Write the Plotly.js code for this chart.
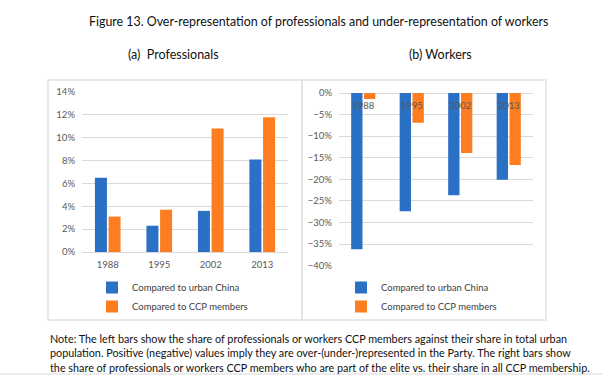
<!DOCTYPE html>
<html>
<head>
<meta charset="utf-8">
<script src="https://cdn.plot.ly/plotly-3.0.1.min.js"></script>
<style>html,body{margin:0;padding:0;background:#fff;}#chart{width:602px;height:377px;}</style>
</head>
<body>
<div id="chart"></div>
<script>
const years = ['1988', '1995', '2002', '2013'];
const profUrban = [6.5, 2.3, 3.6, 8.1];
const profCCP = [3.1, 3.7, 10.8, 11.8];
const workUrban = [-36.2, -27.4, -23.7, -20.1];
const workCCP = [-1.4, -6.9, -13.9, -16.7];
const seriesNames = ['Compared to urban China', 'Compared to CCP members'];
const titleText = 'Figure 13. Over-representation of professionals and under-representation of workers';
const subTitles = ['(a)  Professionals', '(b) Workers'];
const noteLines = [
  'Note: The left bars show the share of professionals or workers CCP members against their share in total urban',
  'population. Positive (negative) values imply they are over-(under-)represented in the Party. The right bars show',
  'the share of professionals or workers CCP members who are part of the elite vs. their share in all CCP membership.'
];

const BLUE = '#2a70c4';
const ORANGE = '#fd7d20';
const FONT = 'Lato, "Open Sans", sans-serif';
const W = 602, H = 377;
const px = v => v / W;
const py = v => 1 - v / H;

const traces = [
  {type:'bar', x:years, y:profUrban, name:seriesNames[0], marker:{color:BLUE}, xaxis:'x', yaxis:'y', legend:'legend'},
  {type:'bar', x:years, y:profCCP, name:seriesNames[1], marker:{color:ORANGE}, xaxis:'x', yaxis:'y', legend:'legend'},
  {type:'bar', x:years, y:workUrban, name:seriesNames[0], marker:{color:BLUE}, xaxis:'x2', yaxis:'y2', legend:'legend2'},
  {type:'bar', x:years, y:workCCP, name:seriesNames[1], marker:{color:ORANGE}, xaxis:'x2', yaxis:'y2', legend:'legend2'}
];

const tickFont = {family:FONT, size:9.5, color:'#595959'};
const legendFont = {family:FONT, size:9.5, color:'#404040'};

const layout = {
  width: W, height: H,
  margin: {l:0, r:0, t:0, b:0},
  paper_bgcolor: '#fff', plot_bgcolor: 'rgba(0,0,0,0)',
  barmode: 'group', bargap: 0.47, bargroupgap: 0.12,
  font: {family: FONT},
  xaxis: {domain:[px(82), px(288)], anchor:'y', type:'category', showgrid:false, showline:false, zeroline:false, ticks:'', tickfont:tickFont, ticklabelstandoff:5},
  yaxis: {domain:[py(252), py(92)], anchor:'x', range:[0,14], dtick:2, ticksuffix:'%', gridcolor:'#d9d9d9', gridwidth:1, zeroline:true, zerolinecolor:'#d9d9d9', zerolinewidth:1, showline:false, ticks:'', tickfont:tickFont, ticklabelstandoff:6},
  xaxis2: {domain:[px(339), px(533)], anchor:'free', position:py(93), type:'category', showgrid:false, showline:false, zeroline:false, ticks:'', tickfont:tickFont, ticklabelstandoff:5},
  yaxis2: {domain:[py(265.7), py(93)], anchor:'x2', range:[-40,0], dtick:5, ticksuffix:'%', gridcolor:'#d9d9d9', gridwidth:1, zeroline:true, zerolinecolor:'#d9d9d9', zerolinewidth:1, showline:false, ticks:'', tickfont:tickFont, ticklabelstandoff:6},
  legend: {x:px(92), y:py(273), xanchor:'left', yanchor:'top', orientation:'v', font:legendFont, bgcolor:'rgba(0,0,0,0)', borderwidth:0, tracegroupgap:0},
  legend2: {x:px(341), y:py(273), xanchor:'left', yanchor:'top', orientation:'v', font:legendFont, bgcolor:'rgba(0,0,0,0)', borderwidth:0, tracegroupgap:0},
  shapes: [
    {type:'rect', xref:'paper', yref:'paper', x0:px(48), x1:px(302), y0:py(320), y1:py(80), line:{color:'#e2e2e2', width:1.5}},
    {type:'rect', xref:'paper', yref:'paper', x0:px(302), x1:px(546), y0:py(320), y1:py(80), line:{color:'#e2e2e2', width:1.5}},
    {type:'line', xref:'paper', yref:'paper', x0:0, x1:1, y0:py(374), y1:py(374), line:{color:'#e6e6e6', width:1.5}}
  ],
  annotations: [
    {text:titleText, xref:'paper', yref:'paper', x:px(318), y:py(22), xanchor:'center', yanchor:'middle', showarrow:false, font:{family:FONT, size:12.4, color:'#111'}},
    {text:subTitles[0], xref:'paper', yref:'paper', x:px(173.5), y:py(54), xanchor:'center', yanchor:'middle', showarrow:false, font:{family:FONT, size:12.5, color:'#111'}},
    {text:subTitles[1], xref:'paper', yref:'paper', x:px(440), y:py(54), xanchor:'center', yanchor:'middle', showarrow:false, font:{family:FONT, size:12.5, color:'#111'}},
    {text:noteLines[0], xref:'paper', yref:'paper', x:px(48), y:py(338), xanchor:'left', yanchor:'middle', showarrow:false, font:{family:FONT, size:10.8, color:'#111'}},
    {text:noteLines[1], xref:'paper', yref:'paper', x:px(48), y:py(352.5), xanchor:'left', yanchor:'middle', showarrow:false, font:{family:FONT, size:10.8, color:'#111'}},
    {text:noteLines[2], xref:'paper', yref:'paper', x:px(48), y:py(367), xanchor:'left', yanchor:'middle', showarrow:false, font:{family:FONT, size:10.8, color:'#111'}}
  ]
};

Plotly.newPlot('chart', traces, layout, {staticPlot:true, displayModeBar:false});
</script>
</body>
</html>
